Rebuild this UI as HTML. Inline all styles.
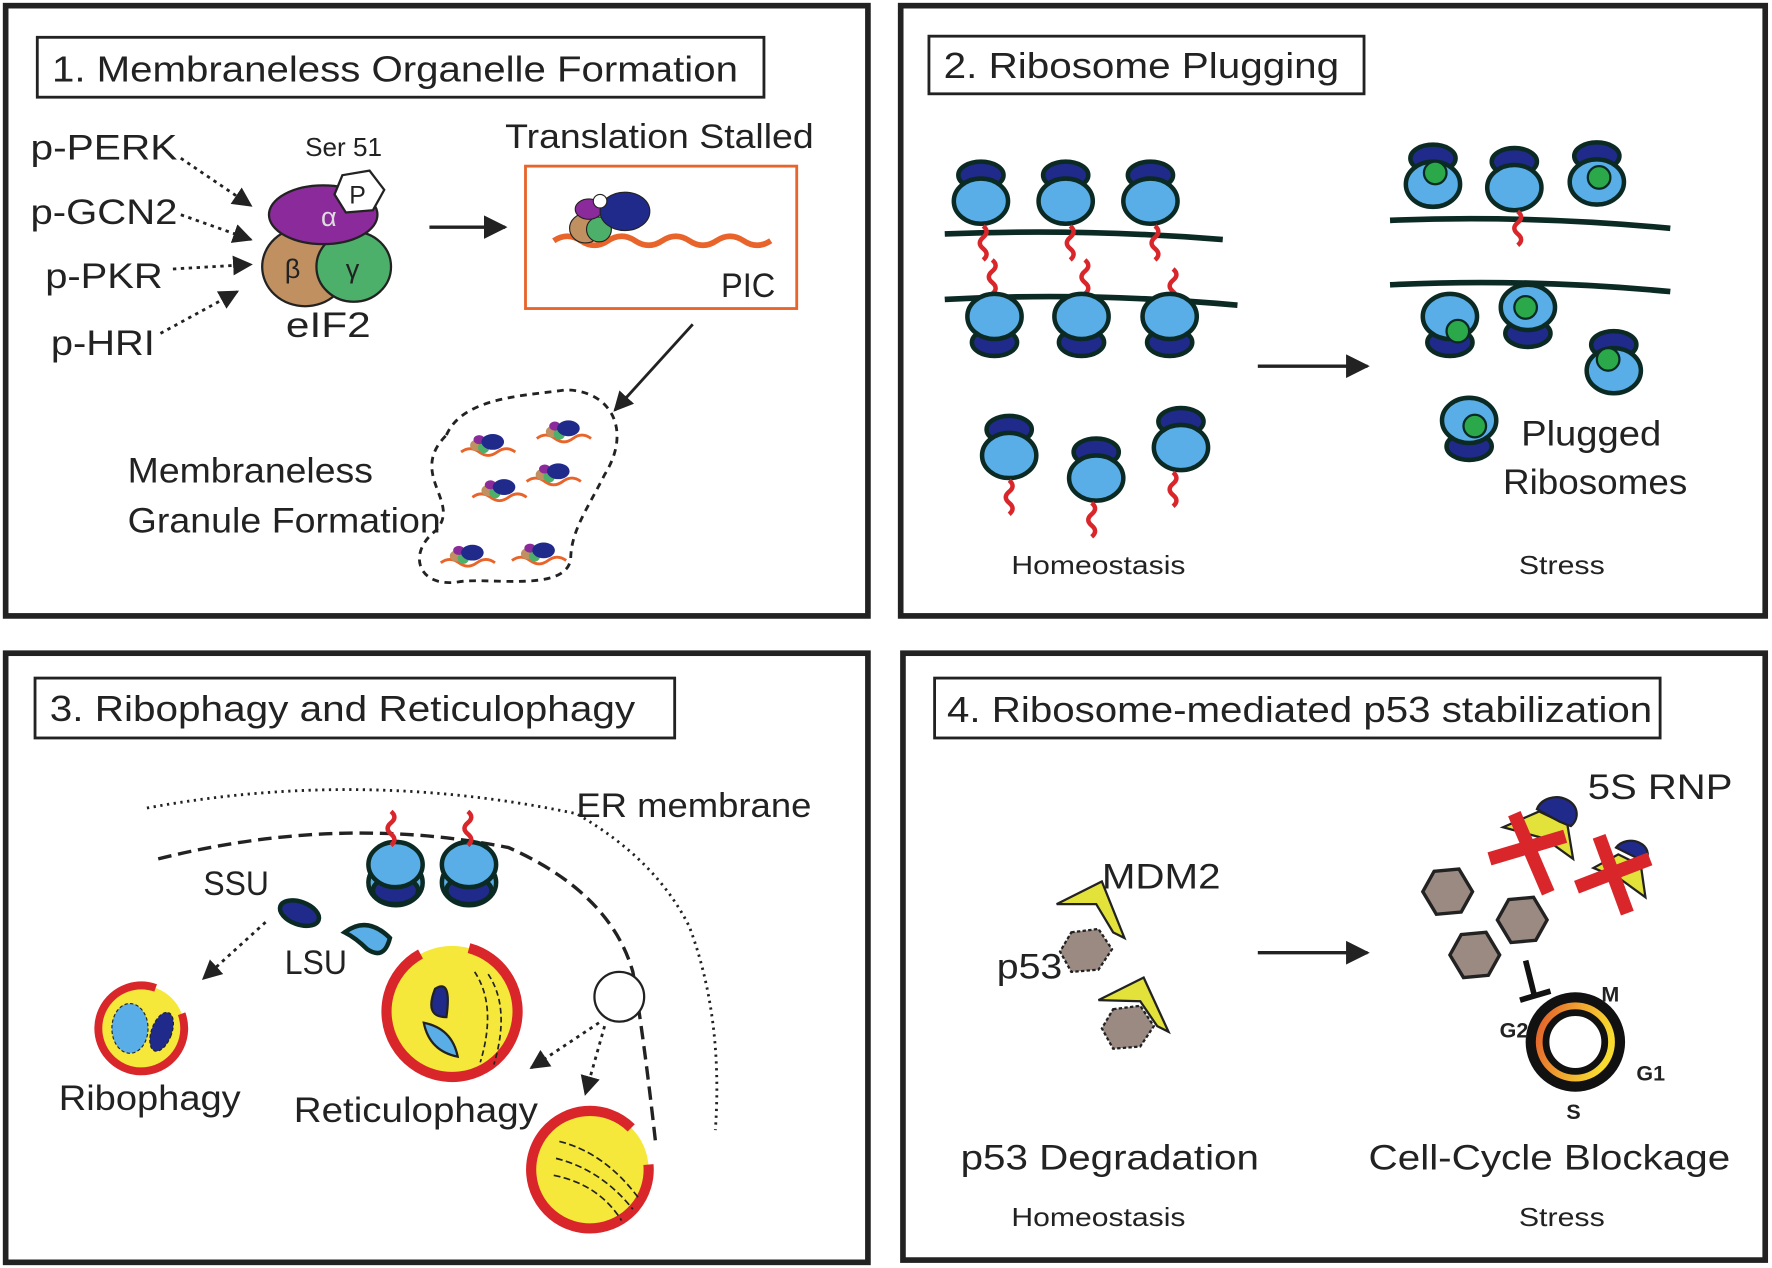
<!DOCTYPE html>
<html><head><meta charset="utf-8"><style>
html,body{margin:0;padding:0;background:#fff;}
svg{display:block;}
text{font-family:"Liberation Sans",sans-serif;fill:#222;}
</style></head><body>
<svg width="1772" height="1268" viewBox="0 0 1568 1122" xmlns="http://www.w3.org/2000/svg">
<defs>
<marker id="ah" viewBox="0 0 10 10" refX="9" refY="5" markerWidth="7" markerHeight="7" orient="auto"><path d="M0,0L10,5L0,10z" fill="#222"/></marker>
<linearGradient id="cg" x1="0" y1="0" x2="1" y2="0.3"><stop offset="0" stop-color="#e0542a"/><stop offset="0.5" stop-color="#f0a030"/><stop offset="1" stop-color="#f8dc30"/></linearGradient>
<g id="rib"><ellipse cx="0" cy="-20" rx="20" ry="12" fill="#1f2a8a" stroke="#0c2a24" stroke-width="4"/><ellipse cx="0" cy="3" rx="24" ry="20" fill="#5aaee8" stroke="#0c2a24" stroke-width="4"/></g>
<g id="ribd"><ellipse cx="0" cy="20" rx="20" ry="12" fill="#1f2a8a" stroke="#0c2a24" stroke-width="4"/><ellipse cx="0" cy="-3" rx="24" ry="20" fill="#5aaee8" stroke="#0c2a24" stroke-width="4"/></g>
<path id="wig" d="M0,0 q6,5 0,10 q-6,5 0,10 q6,5 0,10" fill="none" stroke="#d9262b" stroke-width="4"/>
<g id="hex"><polygon points="-12,-18 10,-20 22,0 12,18 -10,20 -22,0" fill="#9b8a82" stroke="#222" stroke-width="3"/></g>
<g id="mini"><path d="M-22,8 q8,-6 16,0 t16,0 t16,0" fill="none" stroke="#e8642a" stroke-width="2.5"/><ellipse cx="-8" cy="2" rx="6" ry="5" fill="#c09060"/><circle cx="-2" cy="4" r="5" fill="#4cb06a"/><ellipse cx="-6" cy="-3" rx="5" ry="4" fill="#8b2a9a"/><ellipse cx="6" cy="-1" rx="10" ry="7" fill="#1f2a8a"/></g>
</defs>
<g fill="none" stroke="#222" stroke-width="5">
<rect x="5" y="5" width="763" height="540"/><rect x="797" y="5" width="765" height="540"/>
<rect x="5" y="578" width="763" height="539"/><rect x="799" y="578" width="763" height="537"/>
</g>
<g fill="#fff" stroke="#222" stroke-width="2.5">
<rect x="33" y="33" width="643" height="53"/><rect x="822" y="32" width="385" height="51"/>
<rect x="31" y="600" width="566" height="53"/><rect x="827" y="600" width="642" height="53"/>
</g>
<g font-size="32" lengthAdjust="spacingAndGlyphs">
<text x="46" y="72" textLength="607" lengthAdjust="spacingAndGlyphs">1. Membraneless Organelle Formation</text>
<text x="835" y="69" textLength="350" lengthAdjust="spacingAndGlyphs">2. Ribosome Plugging</text>
<text x="44" y="638" textLength="518" lengthAdjust="spacingAndGlyphs">3. Ribophagy and Reticulophagy</text>
<text x="838" y="639" textLength="624" lengthAdjust="spacingAndGlyphs">4. Ribosome-mediated p53 stabilization</text>
</g>
<!-- Panel 1 -->
<g font-size="31">
<text x="27" y="141" textLength="130" lengthAdjust="spacingAndGlyphs">p-PERK</text><text x="27" y="198" textLength="130" lengthAdjust="spacingAndGlyphs">p-GCN2</text><text x="40" y="255" textLength="104" lengthAdjust="spacingAndGlyphs">p-PKR</text><text x="45" y="314" textLength="92" lengthAdjust="spacingAndGlyphs">p-HRI</text>
</g>
<g stroke="#222" stroke-width="2.5" stroke-dasharray="3,4" fill="none" marker-end="url(#ah)">
<line x1="160" y1="140" x2="222" y2="182"/><line x1="160" y1="190" x2="222" y2="212"/>
<line x1="153" y1="238" x2="222" y2="234"/><line x1="142" y1="295" x2="210" y2="258"/>
</g>
<ellipse cx="270" cy="236" rx="38" ry="35" fill="#c09060" stroke="#222" stroke-width="2"/>
<ellipse cx="313" cy="236" rx="33" ry="31" fill="#4cb06a" stroke="#222" stroke-width="2"/>
<ellipse cx="286" cy="190" rx="48" ry="26" fill="#8b2a9a" stroke="#222" stroke-width="2"/>
<polygon points="303,155 327,151 340,168 330,186 306,188 296,172" fill="#fff" stroke="#222" stroke-width="2"/>
<text x="309" y="180" font-size="22">P</text>
<text x="284" y="200" font-size="24" style="fill:#ddd">α</text>
<text x="252" y="246" font-size="24">β</text><text x="306" y="246" font-size="24">γ</text>
<text x="270" y="138" font-size="23" textLength="68" lengthAdjust="spacingAndGlyphs">Ser 51</text>
<text x="253" y="298" font-size="31" textLength="75" lengthAdjust="spacingAndGlyphs">eIF2</text>
<line x1="380" y1="201" x2="447" y2="201" stroke="#222" stroke-width="3" marker-end="url(#ah)"/>
<text x="447" y="131" font-size="30" textLength="273" lengthAdjust="spacingAndGlyphs">Translation Stalled</text>
<rect x="465" y="147" width="240" height="126" fill="none" stroke="#e8642a" stroke-width="2.5"/>
<path d="M490,213 q12,-8 24,0 t24,0 t24,0 t24,0 t24,0 t24,0 t24,0 t24,0" fill="none" stroke="#e8642a" stroke-width="5"/>
<ellipse cx="518" cy="202" rx="14" ry="13" fill="#c09060" stroke="#222"/>
<circle cx="530" cy="203" r="11" fill="#4cb06a" stroke="#222"/>
<ellipse cx="521" cy="185" rx="12" ry="9" fill="#8b2a9a" stroke="#222"/>
<ellipse cx="553" cy="187" rx="22" ry="17" fill="#1f2a8a" stroke="#222"/>
<circle cx="531" cy="178" r="6" fill="#fff" stroke="#222"/>
<text x="638" y="263" font-size="30" textLength="48" lengthAdjust="spacingAndGlyphs">PIC</text>
<line x1="613" y1="287" x2="544" y2="363" stroke="#222" stroke-width="2.5" marker-end="url(#ah)"/>
<path d="M395,385 C410,350 470,350 500,345 C540,345 560,380 535,420 C520,450 505,470 505,495 C500,525 430,510 405,515 C370,520 360,490 385,470 C410,445 360,420 395,385 Z" fill="none" stroke="#222" stroke-width="2.5" stroke-dasharray="6,5"/>
<use href="#mini" x="430" y="392"/><use href="#mini" x="497" y="380"/><use href="#mini" x="488" y="418"/><use href="#mini" x="440" y="432"/><use href="#mini" x="412" y="490"/><use href="#mini" x="475" y="488"/>
<text x="113" y="427" font-size="31" textLength="217" lengthAdjust="spacingAndGlyphs">Membraneless</text><text x="113" y="471" font-size="31" textLength="277" lengthAdjust="spacingAndGlyphs">Granule Formation</text>
<!-- Panel 2 -->
<g fill="none" stroke="#0c2a24" stroke-width="5">
<path d="M836,207 Q960,202 1082,212"/><path d="M836,265 Q960,258 1095,270"/>
<path d="M1230,195 Q1350,190 1478,202"/><path d="M1230,252 Q1350,246 1478,258"/>
</g>
<use href="#rib" x="868" y="175"/><use href="#rib" x="943" y="175"/><use href="#rib" x="1018" y="175"/>
<use href="#wig" x="870" y="200"/><use href="#wig" x="878" y="230"/><use href="#wig" x="947" y="200"/><use href="#wig" x="960" y="230"/><use href="#wig" x="1022" y="200"/><use href="#wig" x="1038" y="238"/>
<use href="#ribd" x="880" y="283"/><use href="#ribd" x="957" y="283"/><use href="#ribd" x="1035" y="283"/>
<use href="#rib" x="893" y="400"/><use href="#rib" x="970" y="420"/><use href="#rib" x="1045" y="393"/>
<use href="#wig" x="893" y="425"/><use href="#wig" x="966" y="445"/><use href="#wig" x="1038" y="418"/>
<line x1="1113" y1="324" x2="1210" y2="324" stroke="#222" stroke-width="3" marker-end="url(#ah)"/>
<g>
<use href="#rib" x="1268" y="160"/><use href="#rib" x="1340" y="163"/><use href="#rib" x="1413" y="158"/>
<use href="#ribd" x="1283" y="283"/><use href="#ribd" x="1352" y="275"/><use href="#rib" x="1428" y="325"/><use href="#ribd" x="1300" y="375"/>
</g>
<g fill="#2aa84a" stroke="#0c2a24" stroke-width="2"><circle cx="1270" cy="153" r="10"/><circle cx="1415" cy="157" r="10"/><circle cx="1290" cy="293" r="10"/><circle cx="1350" cy="272" r="10"/><circle cx="1423" cy="318" r="10"/><circle cx="1305" cy="377" r="10"/></g>
<use href="#wig" x="1343" y="187"/>
<text x="1346" y="394" font-size="31" textLength="124" lengthAdjust="spacingAndGlyphs">Plugged</text><text x="1330" y="437" font-size="31" textLength="163" lengthAdjust="spacingAndGlyphs">Ribosomes</text>
<text x="895" y="508" font-size="23" textLength="154" lengthAdjust="spacingAndGlyphs">Homeostasis</text><text x="1344" y="508" font-size="23" textLength="76" lengthAdjust="spacingAndGlyphs">Stress</text>
<!-- Panel 3 -->
<path d="M130,715 Q320,680 510,720 Q580,760 610,820 Q640,900 633,1000" fill="none" stroke="#222" stroke-width="2.5" stroke-dasharray="2,4"/>
<path d="M140,760 Q300,720 450,750 Q540,790 560,860 Q570,920 580,1010" fill="none" stroke="#222" stroke-width="3" stroke-dasharray="12,6"/>
<text x="510" y="723" font-size="30" textLength="208" lengthAdjust="spacingAndGlyphs">ER membrane</text>
<use href="#rib" x="350" y="778"/><use href="#rib" x="415" y="778"/>
<use href="#ribd" x="350" y="768"/><use href="#ribd" x="415" y="768"/>
<use href="#wig" x="346" y="718"/><use href="#wig" x="414" y="718"/>
<text x="180" y="792" font-size="30" textLength="58" lengthAdjust="spacingAndGlyphs">SSU</text><text x="252" y="862" font-size="30" textLength="55" lengthAdjust="spacingAndGlyphs">LSU</text>
<ellipse cx="265" cy="808" rx="18" ry="10" fill="#1f2a8a" stroke="#0c2a24" stroke-width="4" transform="rotate(20 265 808)"/>
<path d="M305,825 q20,-15 40,5 q-5,20 -20,10 q-10,-10 -20,-15z" fill="#5aaee8" stroke="#0c2a24" stroke-width="4"/>
<line x1="235" y1="816" x2="180" y2="866" stroke="#222" stroke-width="2.5" stroke-dasharray="3,4" marker-end="url(#ah)"/>
<circle cx="125" cy="910" r="38" fill="#f5e83a"/>
<circle cx="125" cy="910" r="38" fill="none" stroke="#d9262b" stroke-width="7" stroke-dasharray="205,34" transform="rotate(-20 125 910)"/>
<ellipse cx="115" cy="910" rx="16" ry="22" fill="#5aaee8" stroke="#222" stroke-dasharray="3,2"/>
<ellipse cx="143" cy="913" rx="9" ry="18" fill="#1f2a8a" stroke="#222" stroke-dasharray="3,2" transform="rotate(20 143 913)"/>
<text x="52" y="982" font-size="31" textLength="161" lengthAdjust="spacingAndGlyphs">Ribophagy</text>
<circle cx="400" cy="895" r="58" fill="#f5e83a"/>
<circle cx="400" cy="895" r="58" fill="none" stroke="#d9262b" stroke-width="9" stroke-dasharray="320,45" transform="rotate(-75 400 895)"/>
<path d="M385,875 q15,-10 10,25 q-20,0 -10,-25z" fill="#1f2a8a" stroke="#222" stroke-width="2"/>
<path d="M375,905 q25,5 30,30 q-25,-5 -30,-30z" fill="#5aaee8" stroke="#222" stroke-width="2"/>
<path d="M420,860 q20,30 5,80 M432,862 q20,30 5,80" fill="none" stroke="#222" stroke-width="1.5" stroke-dasharray="5,3"/>
<text x="260" y="993" font-size="31" textLength="216" lengthAdjust="spacingAndGlyphs">Reticulophagy</text>
<circle cx="548" cy="882" r="22" fill="#fff" stroke="#222" stroke-width="2"/>
<line x1="530" y1="905" x2="470" y2="945" stroke="#222" stroke-width="2.5" stroke-dasharray="3,4" marker-end="url(#ah)"/>
<line x1="535" y1="908" x2="518" y2="968" stroke="#222" stroke-width="2.5" stroke-dasharray="3,4" marker-end="url(#ah)"/>
<circle cx="522" cy="1035" r="52" fill="#f5e83a"/>
<circle cx="522" cy="1035" r="52" fill="none" stroke="#d9262b" stroke-width="9" stroke-dasharray="290,37" transform="rotate(-5 522 1035)"/>
<path d="M495,1010 q40,10 70,50 M492,1025 q40,10 68,45 M490,1040 q40,8 60,40" fill="none" stroke="#222" stroke-width="1.5" stroke-dasharray="6,3"/>
<!-- Panel 4 -->
<text x="975" y="786" font-size="31" textLength="105" lengthAdjust="spacingAndGlyphs">MDM2</text><text x="882" y="866" font-size="31" textLength="58" lengthAdjust="spacingAndGlyphs">p53</text>
<path d="M935,800 l40,-20 l20,50 l-10,-5 l-15,-25z" fill="#e2e23a" stroke="#222" stroke-width="2"/>
<polygon points="948,825 972,822 984,840 972,858 948,860 938,842" fill="#9b8a82" stroke="#222" stroke-width="2" stroke-dasharray="3,2"/>
<path d="M972,885 l40,-20 l22,48 l-10,-5 l-15,-22z" fill="#e2e23a" stroke="#222" stroke-width="2"/>
<polygon points="985,893 1009,890 1021,908 1009,926 985,928 975,910" fill="#9b8a82" stroke="#222" stroke-width="2" stroke-dasharray="3,2"/>
<line x1="1113" y1="843" x2="1210" y2="843" stroke="#222" stroke-width="3" marker-end="url(#ah)"/>
<path d="M1330,732 l32,-14 l25,12 l5,30 l-25,-18z" fill="#e2e23a" stroke="#222" stroke-width="2"/>
<path d="M1360,716 a18,15 0 1 1 30,15 l-10,-4z" fill="#1f2a8a" stroke="#222" stroke-width="2"/>
<path d="M1410,768 l22,-12 l20,10 l4,28 l-22,-16z" fill="#e2e23a" stroke="#222" stroke-width="2"/>
<path d="M1430,750 a15,12 0 1 1 26,12 l-8,-3z" fill="#1f2a8a" stroke="#222" stroke-width="2"/>
<g stroke="#d9262b" stroke-width="12"><line x1="1340" y1="720" x2="1370" y2="790"/><line x1="1318" y1="760" x2="1385" y2="740"/><line x1="1415" y1="740" x2="1440" y2="808"/><line x1="1395" y1="785" x2="1460" y2="760"/></g>
<text x="1405" y="707" font-size="31" textLength="128" lengthAdjust="spacingAndGlyphs">5S RNP</text>
<use href="#hex" x="1281" y="789"/><use href="#hex" x="1305" y="845"/><use href="#hex" x="1347" y="814"/>
<g stroke="#111" stroke-width="5"><line x1="1350" y1="850" x2="1358" y2="882"/><line x1="1345" y1="885" x2="1372" y2="877"/></g>
<circle cx="1394" cy="922" r="44" fill="#111"/>
<circle cx="1394" cy="922" r="35" fill="url(#cg)"/>
<circle cx="1394" cy="922" r="26" fill="#fff" stroke="#111" stroke-width="6"/>
<g font-size="19" font-weight="bold"><text x="1417" y="886">M</text><text x="1327" y="918">G2</text><text x="1448" y="956">G1</text><text x="1386" y="990">S</text></g>
<text x="850" y="1035" font-size="31" textLength="264" lengthAdjust="spacingAndGlyphs">p53 Degradation</text><text x="1211" y="1035" font-size="31" textLength="320" lengthAdjust="spacingAndGlyphs">Cell-Cycle Blockage</text>
<text x="895" y="1085" font-size="23" textLength="154" lengthAdjust="spacingAndGlyphs">Homeostasis</text><text x="1344" y="1085" font-size="23" textLength="76" lengthAdjust="spacingAndGlyphs">Stress</text>
</svg>
</body></html>
